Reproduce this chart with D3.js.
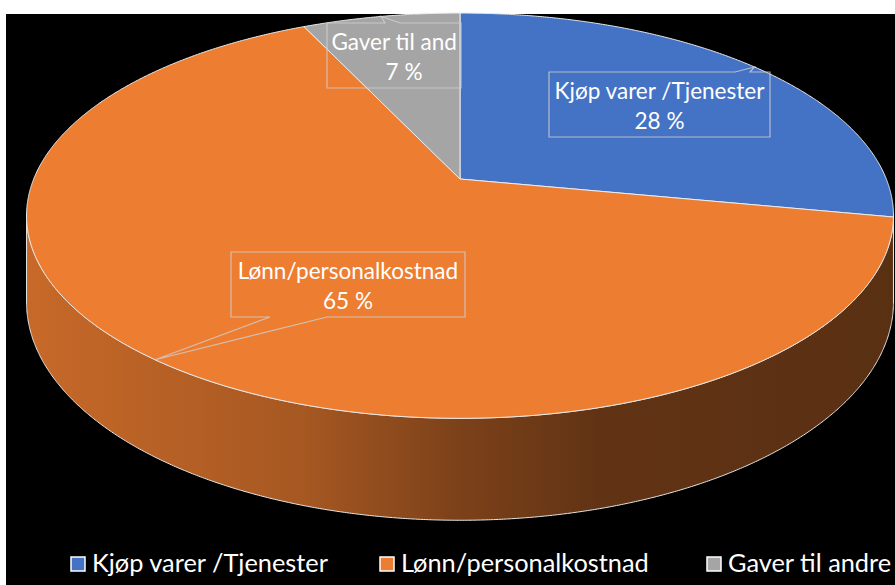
<!DOCTYPE html>
<html><head><meta charset="utf-8">
<script src="https://cdn.jsdelivr.net/npm/d3@7"></script>
<style>html,body{margin:0;padding:0;background:#fff;} svg{display:block}</style>
</head><body>
<svg id="chart" width="895" height="585"></svg>
<script>
// ---- data ----
const categories = ["Kjøp varer /Tjenester", "Lønn/personalkostnad", "Gaver til andre"];
const values = [28, 65, 7];
const percentLabels = ["28 %", "65 %", "7 %"];
const colors = ["#4472C4", "#ED7D31", "#A5A5A5"];

// ---- layout ----
const W = 895, H = 585;
const FONT = "Lato, 'Open Sans', sans-serif";
const geo = {cx: 460, cy: 179, sx: 426.3, sy: 196, k: 0.181, D: 83.5};
const labelLayout = [
  {x0: 549, y0: 72, x1: 770, y1: 137, edge: "top", b: [735, 750], tx: 659.5},
  {x0: 231, y0: 252, x1: 465, y1: 317, edge: "bottom", b: [270, 327], tx: 348},
  {x0: 327, y0: 23, x1: 461, y1: 88, edge: "top", b: [385, 400], tx: 404}
];
const legendX = [71, 380, 707];

const svg = d3.select("#chart");
svg.append("rect").attr("x", 6).attr("y", 14).attr("width", W - 6).attr("height", H - 14).attr("fill", "#000");

const rScale = d3.scaleLinear().domain([0, 1]).range([0, 1]);
function proj(a, drop) {
  const u = rScale(1) * Math.sin(a), v = -rScale(1) * Math.cos(a);
  const w = 1 - geo.k * v;
  return [geo.cx + geo.sx * u / w, geo.cy + geo.sy * v / w + (drop ? geo.D / w : 0)];
}
function arcPts(a0, a1, drop) {
  const n = Math.max(2, Math.ceil((a1 - a0) / 0.005));
  return d3.range(n + 1).map(i => proj(a0 + (a1 - a0) * i / n, drop));
}
const line = d3.line();
const arcs = d3.pie().sort(null).value(d => d).startAngle(0).endAngle(2 * Math.PI)(values);

// gradients for the side walls
const defs = svg.append("defs");
const shade = [[0, 0.84], [0.32, 0.70], [0.49, 0.53], [0.66, 0.41], [1, 0.38]];
colors.forEach((c, i) => {
  const g = defs.append("linearGradient").attr("id", "side" + i)
    .attr("gradientUnits", "userSpaceOnUse").attr("x1", 26).attr("x2", 893).attr("y1", 0).attr("y2", 0);
  const base = d3.rgb(c);
  shade.forEach(([o, m]) => {
    g.append("stop").attr("offset", o).attr("stop-color", d3.rgb(base.r * m, base.g * m, base.b * m).formatHex());
  });
});

// side walls
const aL = Math.acos(-geo.k), aR = 2 * Math.PI - aL;
const sideG = svg.append("g");
arcs.forEach((d, i) => {
  const s0 = Math.max(d.startAngle, aL), s1 = Math.min(d.endAngle, aR);
  if (s1 <= s0) return;
  const pts = arcPts(s0, s1, 0).concat(arcPts(s0, s1, 1).reverse());
  sideG.append("path").attr("d", line(pts) + "Z")
    .attr("fill", `url(#side${i})`).attr("stroke", "#e6e6e6").attr("stroke-width", 1).attr("stroke-linejoin", "round");
});

// top face
const topG = svg.append("g");
arcs.forEach((d, i) => {
  const pts = [[geo.cx, geo.cy]].concat(arcPts(d.startAngle, d.endAngle, 0));
  topG.append("path").attr("d", line(pts) + "Z")
    .attr("fill", colors[i]).attr("stroke", "#ececec").attr("stroke-width", 1).attr("stroke-linejoin", "round");
});

// callouts
function calloutPath(L, tip) {
  const {x0, y0, x1, y1, edge, b} = L;
  let p;
  if (edge === "top") {
    p = [[x0, y0], [b[0], y0], tip, [b[1], y0], [x1, y0], [x1, y1], [x0, y1]];
  } else {
    p = [[x0, y0], [x1, y0], [x1, y1], [b[1], y1], tip, [b[0], y1], [x0, y1]];
  }
  return line(p) + "Z";
}
const labG = svg.append("g");
arcs.forEach((d, i) => {
  const L = labelLayout[i];
  const tip = proj((d.startAngle + d.endAngle) / 2, 0);
  labG.append("path").attr("d", calloutPath(L, tip))
    .attr("fill", "none").attr("stroke", "#d0d0d0").attr("stroke-opacity", 0.8).attr("stroke-width", 1.2);
  const cp = defs.append("clipPath").attr("id", "clip" + i);
  cp.append("rect").attr("x", L.x0 + 3).attr("y", L.y0).attr("width", L.x1 - L.x0 - 6).attr("height", L.y1 - L.y0);
  const tg = labG.append("g").attr("clip-path", `url(#clip${i})`);
  tg.append("text").attr("class", "lbl").attr("x", L.tx).attr("y", L.y0 + 27).attr("text-anchor", "middle").text(categories[i]);
  tg.append("text").attr("class", "lbl").attr("x", L.tx).attr("y", L.y0 + 56.5).attr("text-anchor", "middle").text(percentLabels[i]);
});

// fit fonts to reference widths
function fitSize(str, target) {
  const t = svg.append("text").attr("font-family", FONT).attr("font-size", 100).text(str);
  const w = t.node().getComputedTextLength(); t.remove();
  return 100 * target / w;
}
const lblSize = fitSize(categories[0], 210);
labG.selectAll("text.lbl").attr("font-family", FONT).attr("font-size", lblSize).attr("fill", "#fff");

// legend
const legSize = fitSize(categories[0], 236);
const legG = svg.append("g");
categories.forEach((c, i) => {
  const lx = legendX[i];
  legG.append("rect").attr("x", lx).attr("y", 557).attr("width", 14).attr("height", 14)
    .attr("fill", colors[i]).attr("stroke", "#fff").attr("stroke-width", 1.5);
  legG.append("text").attr("x", lx + 21).attr("y", 572)
    .attr("font-family", FONT).attr("font-size", legSize).attr("fill", "#fff").text(c);
});
</script>
</body></html>
